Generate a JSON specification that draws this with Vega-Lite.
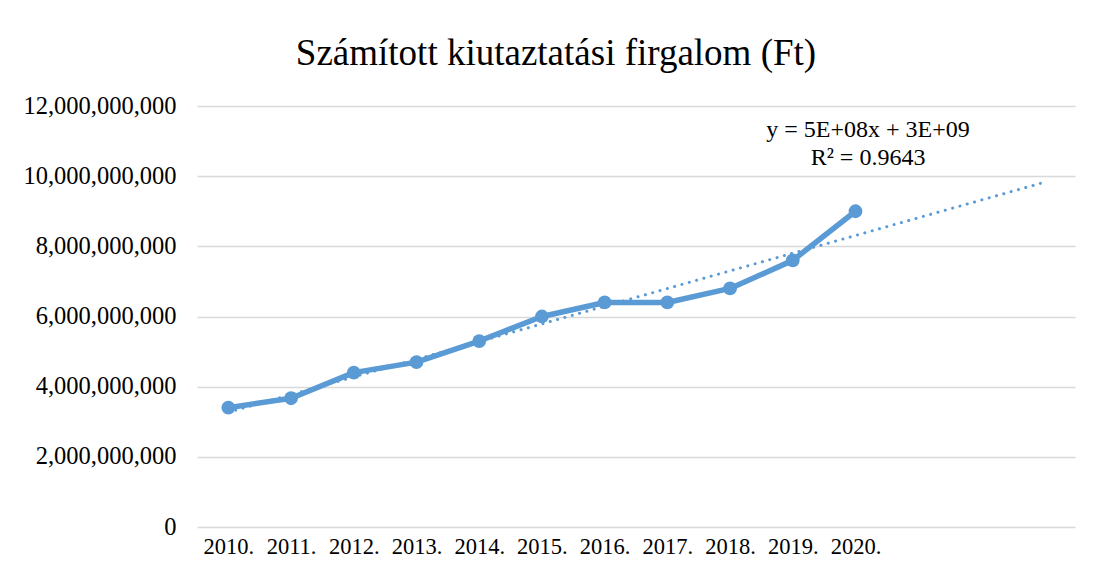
{
  "$schema": "https://vega.github.io/schema/vega-lite/v6.json",
  "width": 878,
  "height": 421,
  "autosize": {"type": "none"},
  "padding": {"left": 197, "top": 106, "right": 22, "bottom": 54},
  "background": "white",
  "title": {
    "text": "Számított kiutaztatási firgalom (Ft)",
    "font": "Liberation Serif",
    "fontSize": 37,
    "fontWeight": "normal",
    "color": "#000000",
    "anchor": "middle",
    "dx": -80,
    "dy": 50,
    "baseline": "alphabetic",
    "offset": 41
  },
  "config": {
    "view": {"stroke": null},
    "font": "Liberation Serif"
  },
  "datasets": {
    "main": [
      {"year": 2010, "value": 3400000000},
      {"year": 2011, "value": 3670000000},
      {"year": 2012, "value": 4400000000},
      {"year": 2013, "value": 4700000000},
      {"year": 2014, "value": 5300000000},
      {"year": 2015, "value": 6000000000},
      {"year": 2016, "value": 6400000000},
      {"year": 2017, "value": 6400000000},
      {"year": 2018, "value": 6800000000},
      {"year": 2019, "value": 7600000000},
      {"year": 2020, "value": 9000000000}
    ],
    "trend": [
      {"year": 2010, "value": 3270000000},
      {"year": 2023, "value": 9820000000}
    ],
    "eq": [
      {"year": 2020.2, "value": 11120000000, "label": "y = 5E+08x + 3E+09\nR² = 0.9643"}
    ]
  },
  "layer": [
    {
      "data": {"name": "main"},
      "mark": {"type": "line", "color": "#5B9BD5", "strokeWidth": 5.5, "strokeJoin": "round", "strokeCap": "round"},
      "encoding": {
        "x": {
          "field": "year", "type": "quantitative",
          "scale": {"domain": [2009.5, 2023.5], "nice": false, "zero": false},
          "axis": {
            "values": [2010, 2011, 2012, 2013, 2014, 2015, 2016, 2017, 2018, 2019, 2020],
            "labelExpr": "datum.value + '.'",
            "title": null, "grid": false, "domain": false, "ticks": false,
            "labelFont": "Liberation Serif", "labelFontSize": 22.5, "labelColor": "#000000",
            "labelOverlap": false, "labelFlush": false, "labelPadding": 8
          }
        },
        "y": {
          "field": "value", "type": "quantitative",
          "scale": {"domain": [0, 12000000000], "nice": false},
          "axis": {
            "values": [0, 2000000000, 4000000000, 6000000000, 8000000000, 10000000000, 12000000000],
            "format": ",d",
            "title": null, "domain": false, "ticks": false,
            "gridColor": "#d9d9d9", "gridWidth": 1.5,
            "labelFont": "Liberation Serif", "labelFontSize": 24.5, "labelColor": "#000000",
            "labelPadding": 21
          }
        }
      }
    },
    {
      "data": {"name": "main"},
      "mark": {"type": "point", "filled": true, "opacity": 1, "color": "#5B9BD5", "size": 190},
      "encoding": {
        "x": {"field": "year", "type": "quantitative"},
        "y": {"field": "value", "type": "quantitative"}
      }
    },
    {
      "data": {"name": "trend"},
      "mark": {"type": "line", "color": "#5B9BD5", "strokeWidth": 3, "strokeDash": [0.1, 7.5], "strokeCap": "round"},
      "encoding": {
        "x": {"field": "year", "type": "quantitative"},
        "y": {"field": "value", "type": "quantitative"}
      }
    },
    {
      "data": {"name": "eq"},
      "mark": {"type": "text", "font": "Liberation Serif", "fontSize": 24, "color": "#000000", "align": "center", "baseline": "alphabetic", "lineBreak": "\n", "lineHeight": 28},
      "encoding": {
        "x": {"field": "year", "type": "quantitative"},
        "y": {"field": "value", "type": "quantitative"},
        "text": {"field": "label"}
      }
    }
  ]
}
